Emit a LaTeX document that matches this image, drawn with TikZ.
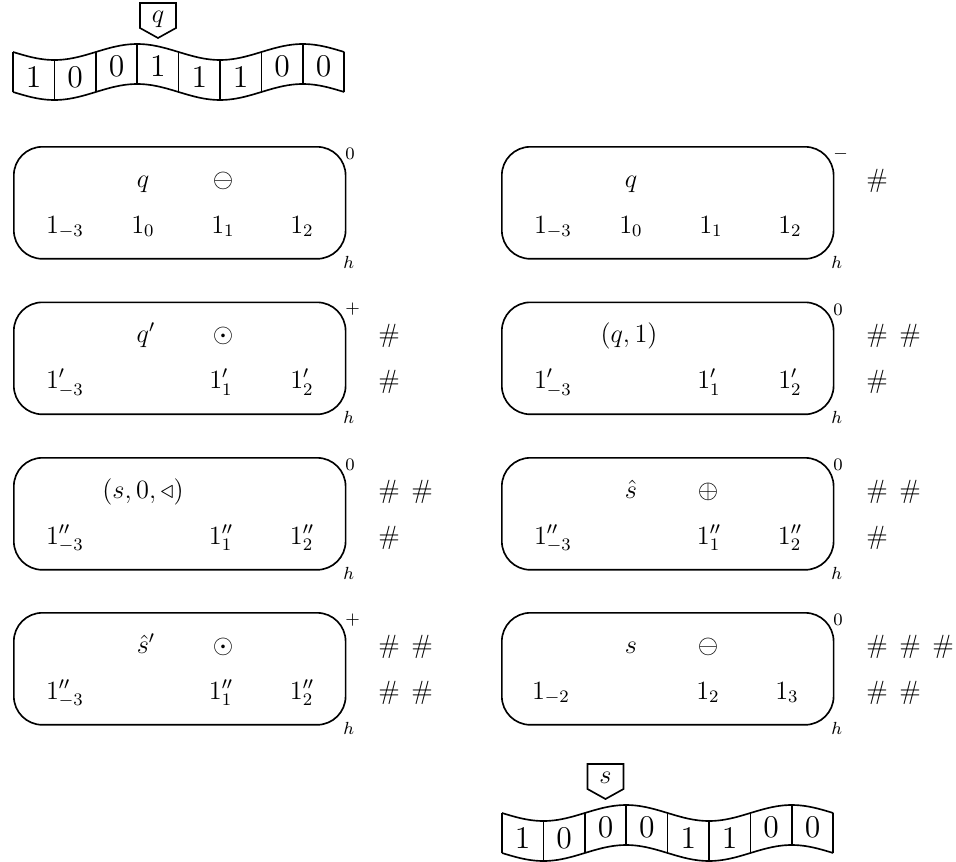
\documentclass[tikz,border=0pt]{standalone}
\usepackage{amsmath,amssymb}
\begin{document}
\begin{tikzpicture}[x=0.016cm,y=-0.016cm,
  frame/.style={draw, line width=0.75pt, rounded corners=13pt, anchor=north west,
                minimum width=151.1pt, minimum height=51pt, inner sep=0pt},
  txt/.style={anchor=base, inner sep=0pt, font=\large},
  lab/.style={font=\footnotesize, inner sep=0pt, anchor=west},
  hsh/.style={anchor=base, inner sep=0pt, font=\large},
  cell/.style={font=\Large, inner sep=0pt},
  tapeline/.style={line width=0.75pt}]
\useasboundingbox (0,0) rectangle (956,862);

% ---------- top tape ----------
\draw[tapeline] plot[domain=0:331.2, samples=90, smooth] ({13+\x},{52+8*sin(2.173913*\x)});
\draw[tapeline] plot[domain=0:331.2, samples=90, smooth] ({13+\x},{92+8*sin(2.173913*\x)});
\foreach \i in {0,...,8}
  \draw[tapeline] ({13+41.4*\i},{52+8*sin(90*\i)}) -- ({13+41.4*\i},{92+8*sin(90*\i)});
\foreach \d [count=\i from 0] in {1,0,0,1,1,1,0,0}
  \node[cell] (ta\i) at ({13+41.4*(\i+0.5)},{72+8*sin(90*(\i+0.5))}) {$\d$};
\draw[tapeline] (140,3) -- (176,3) -- (176,28) -- (158,38) -- (140,28) -- cycle;
\node[inner sep=0pt, font=\large] (headq) at (158,19) {$q$};

% ---------- bottom tape ----------
\draw[tapeline] plot[domain=0:331.2, samples=90, smooth] ({502+\x},{813+8*sin(2.173913*\x)});
\draw[tapeline] plot[domain=0:331.2, samples=90, smooth] ({502+\x},{853+8*sin(2.173913*\x)});
\foreach \i in {0,...,8}
  \draw[tapeline] ({502+41.4*\i},{813+8*sin(90*\i)}) -- ({502+41.4*\i},{853+8*sin(90*\i)});
\foreach \d [count=\i from 0] in {1,0,0,0,1,1,0,0}
  \node[cell] (tb\i) at ({502+41.4*(\i+0.5)},{833+8*sin(90*(\i+0.5))}) {$\d$};
\draw[tapeline] (587.5,764) -- (623.5,764) -- (623.5,789) -- (605.5,799) -- (587.5,789) -- cycle;
\node[inner sep=0pt, font=\large] (heads) at (605.5,778) {$s$};

% ---------- row 1 left ----------
\begin{scope}[shift={(13,146)}]
\node[frame] (A1) at (0,0) {};
\node[txt] (A1u2) at (130,41) {$q$};
\node[txt] (A1u3) at (210,41) {$\ominus$};
\node[txt] (A1l1) at (52,87) {$1_{-3}$};
\node[txt] (A1l2) at (130,87) {$1_0$};
\node[txt] (A1l3) at (210,87) {$1_1$};
\node[txt] (A1l4) at (289,87) {$1_2$};
\node[lab] (A1s) at (332,8) {$0$};
\node[lab] (A1h) at (330,116) {$h$};
\end{scope}

% ---------- row 1 right ----------
\begin{scope}[shift={(501,146)}]
\node[frame] (B1) at (0,0) {};
\node[txt] (B1u2) at (130,41) {$q$};
\node[txt] (B1l1) at (52,87) {$1_{-3}$};
\node[txt] (B1l2) at (130,87) {$1_0$};
\node[txt] (B1l3) at (210,87) {$1_1$};
\node[txt] (B1l4) at (289,87) {$1_2$};
\node[lab] (B1s) at (332,8) {$-$};
\node[lab] (B1h) at (330,116) {$h$};
\node[hsh] (B1x1) at (376,41) {$\#$};
\end{scope}

% ---------- row 2 left ----------
\begin{scope}[shift={(13,301.5)}]
\node[frame] (A2) at (0,0) {};
\node[txt] (A2u2) at (133,41) {$q'$};
\node[txt] (A2u3) at (210,41) {$\odot$};
\node[txt] (A2l1) at (52,87) {$1'_{-3}$};
\node[txt] (A2l3) at (208,87) {$1'_1$};
\node[txt] (A2l4) at (289,87) {$1'_2$};
\node[lab] (A2s) at (332,8) {$+$};
\node[lab] (A2h) at (330,116) {$h$};
\node[hsh] (A2x1) at (376,41) {$\#$};
\node[hsh] (A2y1) at (376,87) {$\#$};
\end{scope}

% ---------- row 2 right ----------
\begin{scope}[shift={(501,301.5)}]
\node[frame] (B2) at (0,0) {};
\node[txt] (B2u2) at (128,41) {$(q,1)$};
\node[txt] (B2l1) at (52,87) {$1'_{-3}$};
\node[txt] (B2l3) at (208,87) {$1'_1$};
\node[txt] (B2l4) at (289,87) {$1'_2$};
\node[lab] (B2s) at (332,8) {$0$};
\node[lab] (B2h) at (330,116) {$h$};
\node[hsh] (B2x1) at (376,41) {$\#$};
\node[hsh] (B2x2) at (409,41) {$\#$};
\node[hsh] (B2y1) at (376,87) {$\#$};
\end{scope}

% ---------- row 3 left ----------
\begin{scope}[shift={(13,457)}]
\node[frame] (A3) at (0,0) {};
\node[txt] (A3u2) at (130,41) {$(s,0,\triangleleft)$};
\node[txt] (A3l1) at (52,87) {$1''_{-3}$};
\node[txt] (A3l3) at (208,87) {$1''_1$};
\node[txt] (A3l4) at (289,87) {$1''_2$};
\node[lab] (A3s) at (332,8) {$0$};
\node[lab] (A3h) at (330,116) {$h$};
\node[hsh] (A3x1) at (376,41) {$\#$};
\node[hsh] (A3x2) at (409,41) {$\#$};
\node[hsh] (A3y1) at (376,87) {$\#$};
\end{scope}

% ---------- row 3 right ----------
\begin{scope}[shift={(501,457)}]
\node[frame] (B3) at (0,0) {};
\node[txt] (B3u2) at (130,41) {$\hat{s}$};
\node[txt] (B3u3) at (207,41) {$\oplus$};
\node[txt] (B3l1) at (52,87) {$1''_{-3}$};
\node[txt] (B3l3) at (208,87) {$1''_1$};
\node[txt] (B3l4) at (289,87) {$1''_2$};
\node[lab] (B3s) at (332,8) {$0$};
\node[lab] (B3h) at (330,116) {$h$};
\node[hsh] (B3x1) at (376,41) {$\#$};
\node[hsh] (B3x2) at (409,41) {$\#$};
\node[hsh] (B3y1) at (376,87) {$\#$};
\end{scope}

% ---------- row 4 left ----------
\begin{scope}[shift={(13,612)}]
\node[frame] (A4) at (0,0) {};
\node[txt] (A4u2) at (133,41) {$\hat{s}'$};
\node[txt] (A4u3) at (210,41) {$\odot$};
\node[txt] (A4l1) at (52,87) {$1''_{-3}$};
\node[txt] (A4l3) at (208,87) {$1''_1$};
\node[txt] (A4l4) at (289,87) {$1''_2$};
\node[lab] (A4s) at (332,8) {$+$};
\node[lab] (A4h) at (330,116) {$h$};
\node[hsh] (A4x1) at (376,41) {$\#$};
\node[hsh] (A4x2) at (409,41) {$\#$};
\node[hsh] (A4y1) at (376,87) {$\#$};
\node[hsh] (A4y2) at (409,87) {$\#$};
\end{scope}

% ---------- row 4 right ----------
\begin{scope}[shift={(501,612)}]
\node[frame] (B4) at (0,0) {};
\node[txt] (B4u2) at (130,41) {$s$};
\node[txt] (B4u3) at (207,41) {$\ominus$};
\node[txt] (B4l1) at (50,87) {$1_{-2}$};
\node[txt] (B4l3) at (207,87) {$1_2$};
\node[txt] (B4l4) at (286,87) {$1_3$};
\node[lab] (B4s) at (332,8) {$0$};
\node[lab] (B4h) at (330,116) {$h$};
\node[hsh] (B4x1) at (376,41) {$\#$};
\node[hsh] (B4x2) at (409,41) {$\#$};
\node[hsh] (B4x3) at (442,41) {$\#$};
\node[hsh] (B4y1) at (376,87) {$\#$};
\node[hsh] (B4y2) at (409,87) {$\#$};
\end{scope}
\end{tikzpicture}
\end{document}
